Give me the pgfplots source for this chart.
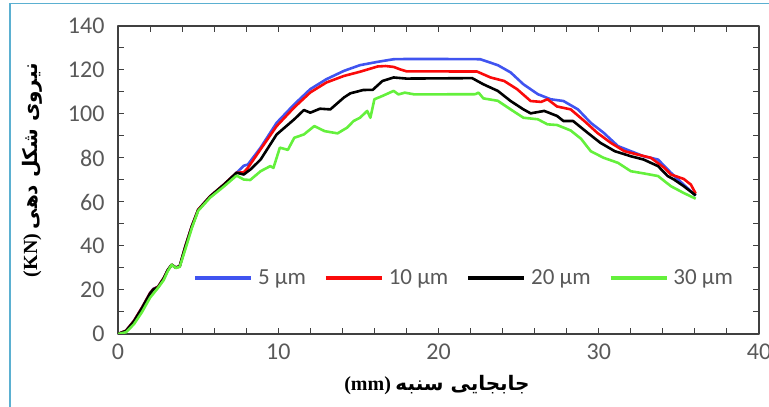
\documentclass[border=0pt]{standalone}
\usepackage{pgfplots}
\pgfplotsset{compat=1.18}
\usepackage{fontspec}
\setmainfont{Carlito}
\newfontfamily\fafont[Script=Arabic]{DejaVu Sans}
\newfontfamily\serifb{Liberation Serif}
\TeXXeTstate=1
\definecolor{c5}{RGB}{64,84,240}
\definecolor{c10}{RGB}{250,10,10}
\definecolor{c20}{RGB}{0,0,0}
\definecolor{c30}{RGB}{100,240,60}
\definecolor{tickgray}{RGB}{89,89,89}
\definecolor{axgray}{RGB}{64,64,64}
\definecolor{frameblue}{RGB}{91,176,209}

\begin{document}
\begin{tikzpicture}[x=1pt,y=1pt]
\useasboundingbox (0,0) rectangle (769,407);
\draw[frameblue, line width=1.6pt] (10,-10) rectangle (800,403.5);
\begin{axis}[
  at={(118pt,73pt)}, anchor=south west,
  scale only axis, width=641pt, height=308pt,
  xmin=0, xmax=40, ymin=0, ymax=140,
  xtick={0,10,...,40}, ytick={0,20,...,140},
  minor x tick num=4, minor y tick num=1,
  tick align=inside,
  major tick length=6pt, minor tick length=6pt,
  every tick/.style={axgray, line width=1pt},
  axis line style={axgray, line width=1.3pt},
  /pgf/number format/assume math mode=true,
  tick label style={font=\fontsize{24}{27}\selectfont, text=tickgray},
  xticklabel style={yshift=-6pt},
  yticklabel style={xshift=-10pt},
  line join=round,
  legend columns=4,
  legend style={at={(0.540,0.182)}, anchor=center, draw=none, fill=none,
    font=\fontsize{23}{27}\selectfont, text=tickgray,
    /tikz/every odd column/.append style={column sep=3pt},
    /tikz/every even column/.append style={column sep=16pt}},
  legend image code/.code={\draw[#1, line width=3.8pt] (0pt,0pt) -- (56pt,0pt);},
]
\addplot[c5, line width=2.6pt] coordinates {
(0,0) (0.5,1.5) (1,6) (1.5,12) (2,18.6) (2.2,20.5) (2.5,21.5) (2.85,25.4)
(3.1,29) (3.35,31.5) (3.6,30.2) (3.85,30.8) (4.2,39.8) (4.6,48.9) (5,56.5)
(5.75,62.6) (6.6,67.9) (7.4,73.3) (7.85,76.5) (8.1,77) (8.9,84.7) (9.9,96)
(11,104.4) (12,111.3) (13,115.8) (14.1,119.6) (15.1,122.2) (16.2,123.7)
(17.2,124.9) (18,125) (20,125) (22.6,124.9) (23.7,122.2) (24.5,118.9)
(25.3,113.5) (26.2,109) (27,106.7) (27.8,105.9) (28.7,102.1) (29.5,96)
(30.3,91.5) (31.2,85.4) (32,83.1) (32.8,80.8) (33.7,79.3) (34.5,73.3)
(35.3,67.9) (36.05,62.9)
};
\addplot[c10, line width=2.6pt] coordinates {
(0,0) (0.5,1.5) (1,6) (1.5,12) (2,18.6) (2.2,20.3) (2.5,21.5) (2.85,25.4)
(3.1,29) (3.35,31.5) (3.6,30.2) (3.85,30.8) (4.2,39.8) (4.6,48.9) (5,56.5)
(5.75,62.6) (6.6,67.9) (7.4,73.3) (7.85,73.5) (8.1,75.5) (8.9,84) (9.9,94.5)
(11,103) (12,109.8) (13,114.3) (14.1,117.3) (15.1,119.2) (16.2,121.6)
(16.7,121.8) (17.2,121.4) (17.6,120.3) (18,119.4) (22.4,119.3) (23.25,116.6)
(24.1,115) (24.9,111.3) (25.75,105.9) (26.4,105.5) (26.8,106.7) (27.4,103.4)
(28.25,102.1) (29.1,96.8) (29.9,91.5) (30.75,86.9) (31.6,83.1) (32.4,81.6)
(33.25,80.1) (34.1,75.5) (34.5,72.5) (35.3,70.5) (35.75,67.9) (36.05,63.8)
};
\addplot[c20, line width=2.6pt] coordinates {
(0,0) (0.5,1.4) (1,5.8) (1.5,11.8) (2,18.4) (2.2,20.2) (2.5,21.3) (2.85,25.2)
(3.1,29) (3.35,31.5) (3.6,30.2) (3.85,30.8) (4.2,39.6) (4.6,48.7) (5,56.3)
(5.75,62.5) (6.6,67.8) (7.4,73.3) (7.85,72.5) (8.3,75) (8.9,79.3) (9.9,90.7)
(11,97.6) (11.6,101.8) (12,100.6) (12.6,102.4) (13.25,102.1) (14.1,107.5)
(14.5,109.4) (15.3,110.9) (15.9,111) (16.5,115) (17.2,116.6) (18,116.1)
(22.1,116.3) (22.8,113.5) (23.7,110.5) (24.5,105.9) (25.3,102.1) (25.75,100.3)
(26.6,101.4) (27.4,99.1) (27.8,96.8) (28.4,96.8) (29.3,91.5) (30.1,86.9)
(31,83.1) (32,80.8) (32.8,79.3) (33.7,76.3) (34.3,71.8) (34.7,70.2)
(35.3,67.2) (36.05,63)
};
\addplot[c30, line width=2.6pt] coordinates {
(0,0) (0.5,0.8) (1,4.5) (1.5,10) (2,16.5) (2.5,21) (2.85,24.5) (3.1,28.5)
(3.35,31.5) (3.6,30) (3.85,30.5) (4.2,38.5) (4.6,48) (5,56) (5.75,62) (6.6,67)
(7.4,72) (7.85,70.2) (8.25,70) (8.9,74) (9.5,76.3) (9.7,75.5) (10.1,84.7)
(10.6,83.7) (11,89.2) (11.6,90.7) (12.25,94.5) (12.9,92.2) (13.7,91.2)
(14.3,93.8) (14.7,96.8) (15.1,98.3) (15.55,101.4) (15.75,98.3) (16,106.7)
(16.5,108.2) (17.2,110.5) (17.5,108.9) (17.9,109.7) (18.5,108.9) (22.3,109)
(22.5,109.7) (22.8,107.1) (23.7,106) (24.5,102.1) (25.3,98.3) (26.2,97.6)
(26.8,95.3) (27.4,95) (28.25,92.5) (28.9,88.7) (29.5,83.1) (30.3,80.1)
(31.2,77.8) (32,74) (32.8,73) (33.7,71.8) (34.5,67.2) (35.3,64.1) (36.05,61.5)
};
\legend{5 µm,10 µm,20 µm,30 µm}
\end{axis}
\node at (437,22) {\fontsize{20}{24}\selectfont\bfseries{\serifb (mm)} {\fafont\beginR جابجایی سنبه\endR}};
\node[rotate=90] at (32,237) {\fontsize{20}{24}\selectfont\bfseries{\serifb (KN)} {\fafont\beginR نیروی شکل دهی\endR}};
\end{tikzpicture}
\end{document}
